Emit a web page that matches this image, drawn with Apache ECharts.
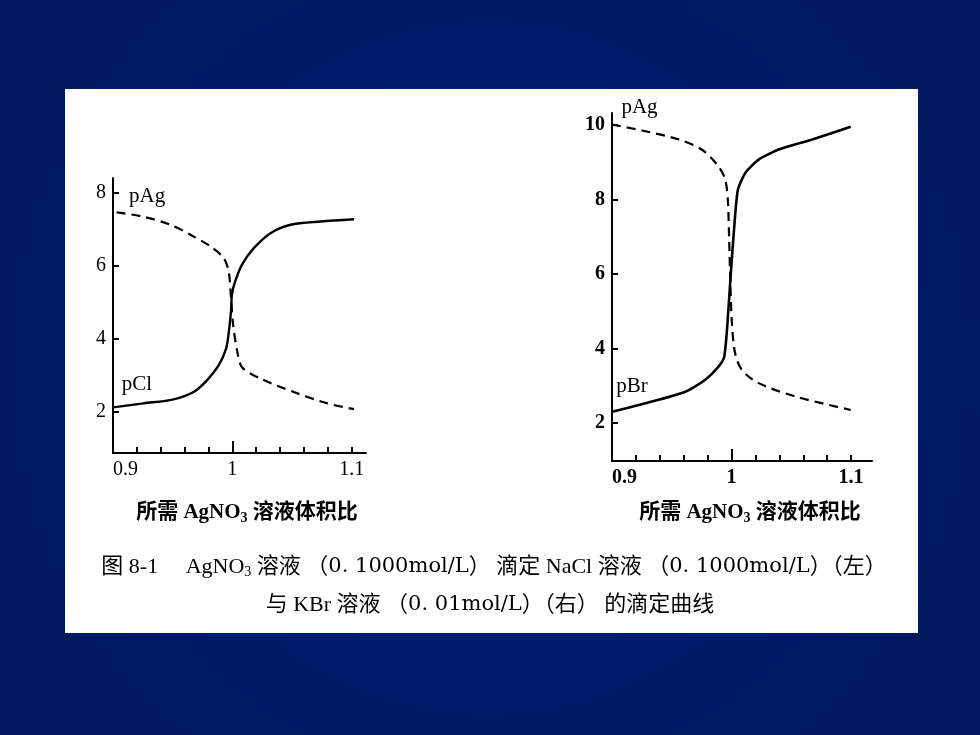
<!DOCTYPE html>
<html>
<head>
<meta charset="utf-8">
<script src="https://cdn.jsdelivr.net/npm/echarts@6/dist/echarts.min.js"></script>
<style>
html,body{margin:0;padding:0;background:#001a63;}
#c{width:980px;height:735px;}
</style>
</head>
<body>
<div id="c"></div>
<script>
// ---- data ----
var xTickLabels = ['0.9', '1', '1.1'];
var xTickValues = [0.9, 1.0, 1.1];
var xMinorTicks = [0.9, 0.92, 0.94, 0.96, 0.98, 1.0, 1.02, 1.04, 1.06, 1.08, 1.1];
var leftYTicks = [2, 4, 6, 8];
var rightYTicks = [2, 4, 6, 8, 10];

// Left: AgNO3 0.1000 mol/L titrating NaCl 0.1000 mol/L
var leftPClX = [0.900, 0.9255, 0.9507, 0.9675, 0.9787, 0.9885, 0.9947, 0.9972, 0.9989, 0.9997, 1.0025, 1.0081, 1.018, 1.032, 1.0487, 1.074, 1.102];
var leftPClY = [2.13, 2.24, 2.35, 2.55, 2.87, 3.28, 3.73, 4.23, 4.77, 5.23, 5.59, 6.04, 6.49, 6.90, 7.13, 7.22, 7.28];
var leftPAgX = [0.903, 0.9255, 0.948, 0.9675, 0.9815, 0.9927, 0.9969, 0.9989, 1.0006, 1.004, 1.0081, 1.0235, 1.0515, 1.0796, 1.102];
var leftPAgY = [7.47, 7.35, 7.13, 6.81, 6.54, 6.22, 5.86, 5.13, 4.41, 3.68, 3.23, 2.92, 2.55, 2.24, 2.08];

// Right: KBr 0.01 mol/L
var rightPBrX = [0.900, 0.928, 0.9615, 0.978, 0.989, 0.9939, 0.9966, 0.9994, 1.0025, 1.0053, 1.0115, 1.0227, 1.0395, 1.0675, 1.0997];
var rightPBrY = [2.30, 2.53, 2.84, 3.16, 3.51, 3.78, 4.68, 6.02, 7.37, 8.26, 8.71, 9.07, 9.34, 9.61, 9.95];
var rightPAgX = [0.900, 0.928, 0.956, 0.975, 0.989, 0.9947, 0.9969, 0.998, 0.9992, 1.0003, 1.003, 1.0087, 1.0227, 1.0535, 1.0997];
var rightPAgY = [10.01, 9.83, 9.61, 9.34, 8.89, 8.53, 7.99, 6.92, 5.58, 4.68, 3.87, 3.42, 3.07, 2.71, 2.35];

// annotation labels (data coords)
var labels = [
  {text: 'pAg', grid: 0, at: [0.9286, 7.9]},
  {text: 'pCl', grid: 0, at: [0.920, 2.76]},
  {text: 'pAg', grid: 1, at: [0.923, 10.48]},
  {text: 'pBr', grid: 1, at: [0.9167, 2.98]}
];

function zip(xs, ys){ return xs.map(function(x,i){ return [x, ys[i]]; }); }

var serif = '"Liberation Serif","DejaVu Serif","Noto Sans CJK SC",serif';
var cjk = '"Liberation Serif","Noto Sans CJK SC",serif';
var wide = '"DejaVu Serif","Liberation Serif",serif';

function xAxes(gi, max, bold){
  return [{
    type: 'value', gridIndex: gi, min: 0.9, max: max,
    axisLine: {show: true, onZero: false, lineStyle: {color: '#000', width: 2}},
    axisTick: {show: true, inside: true, length: 6, customValues: xMinorTicks, lineStyle: {color: '#000', width: 2}},
    axisLabel: {show: true, customValues: xTickValues, margin: 7, color: '#000', fontFamily: serif, fontSize: 20, fontWeight: bold ? 'bold' : 'normal',
      alignMinLabel: 'left',
      formatter: function(v){ var i = xTickValues.findIndex(function(t){return Math.abs(t-v)<1e-6;}); return i>=0 ? xTickLabels[i] : ''; }},
    splitLine: {show: false}
  }, {
    type: 'value', gridIndex: gi, min: 0.9, max: max, position: 'bottom',
    axisLine: {show: false},
    axisTick: {show: true, inside: true, length: 12, customValues: [1.0], lineStyle: {color: '#000', width: 2}},
    axisLabel: {show: false}, splitLine: {show: false}
  }];
}
function yAxis(gi, min, max, ticks, bold){
  return {
    type: 'value', gridIndex: gi, min: min, max: max,
    axisLine: {show: true, onZero: false, lineStyle: {color: '#000', width: 2}},
    axisTick: {show: true, inside: true, length: 6, customValues: ticks, lineStyle: {color: '#000', width: 2}},
    axisLabel: {show: true, customValues: ticks, margin: 7, color: '#000', fontFamily: serif, fontSize: 20, fontWeight: bold ? 'bold' : 'normal'},
    splitLine: {show: false}
  };
}

var chart = echarts.init(document.getElementById('c'));
var option = {
  animation: false,
  backgroundColor: {type: 'radial', x: 0.5, y: 0.5, r: 0.75, colorStops: [{offset: 0, color: '#00237c'}, {offset: 1, color: '#00185c'}]},
  grid: [
    {left: 113, top: 178, width: 253, height: 275},
    {left: 612, top: 113, width: 260, height: 348}
  ],
  xAxis: [].concat(xAxes(0, 1.112, false), xAxes(1, 1.1175, true)),
  yAxis: [yAxis(0, 0.88, 8.41, leftYTicks, false), yAxis(1, 0.98, 10.32, rightYTicks, true)],
  series: [
    {type: 'line', xAxisIndex: 0, yAxisIndex: 0, data: zip(leftPClX, leftPClY), showSymbol: false, smooth: 0.3, lineStyle: {color: '#000', width: 2.4}},
    {type: 'line', xAxisIndex: 0, yAxisIndex: 0, data: zip(leftPAgX, leftPAgY), showSymbol: false, smooth: 0.3, lineStyle: {color: '#000', width: 2.2, type: [9, 6]}},
    {type: 'line', xAxisIndex: 2, yAxisIndex: 1, data: zip(rightPBrX, rightPBrY), showSymbol: false, smooth: 0.2, lineStyle: {color: '#000', width: 2.6}},
    {type: 'line', xAxisIndex: 2, yAxisIndex: 1, data: zip(rightPAgX, rightPAgY), showSymbol: false, smooth: 0.3, lineStyle: {color: '#000', width: 2.2, type: [9, 6]}}
  ]
};
chart.setOption(option);

var rich = {
  a: {fontFamily: cjk, fontSize: 21, color: '#000', fontWeight: 'bold'},
  s: {fontFamily: cjk, fontSize: 14, color: '#000', fontWeight: 'bold', padding: [10, 0, 0, 0]},
  c: {fontFamily: cjk, fontSize: 22, color: '#000'},
  d: {fontFamily: wide, fontSize: 21, color: '#000'},
  cs: {fontFamily: cjk, fontSize: 14, color: '#000', padding: [10, 0, 0, 0]}
};
var graphics = [
  {type: 'rect', z: -10, shape: {x: 65, y: 89, width: 853, height: 544}, style: {fill: '#ffffff'}, silent: true},
  {type: 'text', z: 10, x: 247, y: 513, style: {text: '{a|所需 AgNO}{s|3}{a| 溶液体积比}', rich: rich, align: 'center', verticalAlign: 'middle'}},
  {type: 'text', z: 10, x: 750, y: 513, style: {text: '{a|所需 AgNO}{s|3}{a| 溶液体积比}', rich: rich, align: 'center', verticalAlign: 'middle'}},
  {type: 'text', z: 10, x: 494, y: 567, style: {text: '{c|图 8-1　 AgNO}{cs|3}{c| 溶液 （}{d|0. 1000mol/L}{c|） 滴定 NaCl 溶液 （}{d|0. 1000mol/L}{c|）（左）}', rich: rich, align: 'center', verticalAlign: 'middle'}},
  {type: 'text', z: 10, x: 490, y: 605, style: {text: '{c|与 KBr 溶液 （}{d|0. 01mol/L}{c|）（右） 的滴定曲线}', rich: rich, align: 'center', verticalAlign: 'middle'}}
];
labels.forEach(function(l){
  var p = chart.convertToPixel({gridIndex: l.grid}, l.at);
  graphics.push({type: 'text', z: 10, x: p[0], y: p[1], style: {text: l.text, fontFamily: serif, fontSize: 21, fill: '#000', align: 'center', verticalAlign: 'middle'}});
});
chart.setOption({graphic: graphics});
</script>
</body>
</html>
